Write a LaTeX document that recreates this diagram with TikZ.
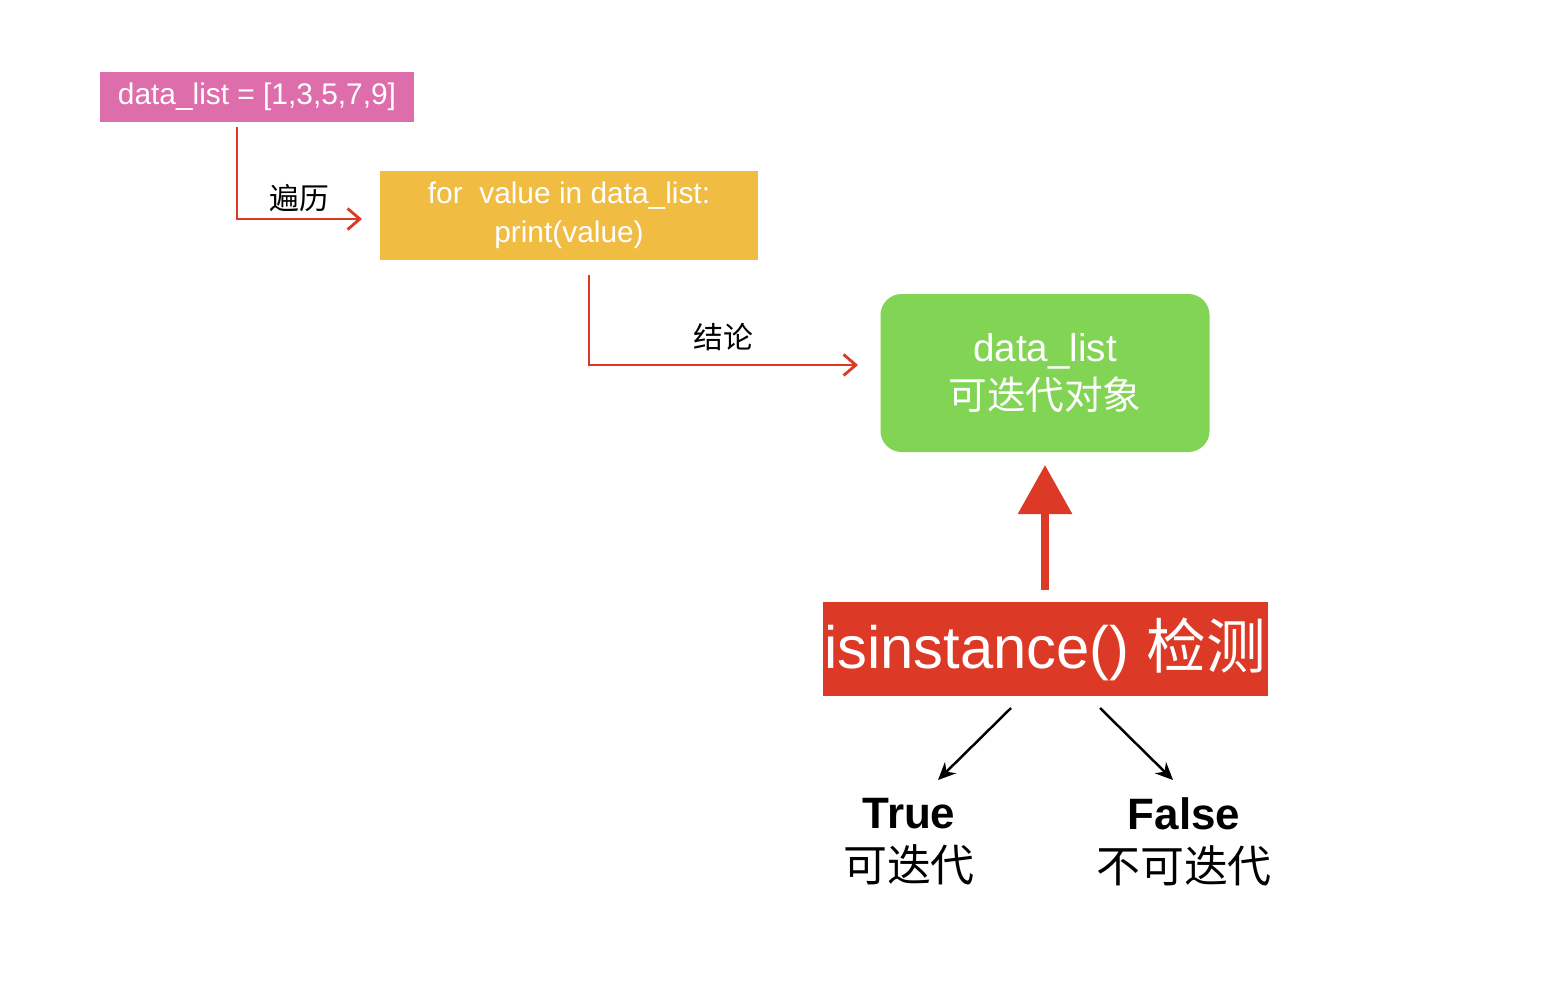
\documentclass[tikz,border=0pt]{standalone}
\usepackage{fontspec}
\setmainfont{Liberation Sans}
\newfontfamily\cjk{Noto Sans CJK SC}
\usetikzlibrary{arrows.meta}
\definecolor{pinkbox}{HTML}{DE6DAB}
\definecolor{yellowbox}{HTML}{F0BC42}
\definecolor{greenbox}{HTML}{81D454}
\definecolor{redbox}{HTML}{DC3A26}

\tikzset{
	codebox/.style={rectangle, inner sep=0pt, text=white, align=center},
	redline/.style={draw=redbox, line width=1.6pt, -{Straight Barb[length=7pt,width=12pt]}},
	blackline/.style={draw=black, line width=1.4pt, -{Stealth[length=10pt,width=9pt]}},
	answer/.style={align=center, font=\fontsize{25}{30}\selectfont\bfseries}
}

\begin{document}
\begin{tikzpicture}[x=0.02cm, y=-0.02cm]
	\useasboundingbox (0,0) rectangle (1544,984);
	\node[codebox, fill=pinkbox, minimum width=314*0.02cm, minimum height=50*0.02cm, font=\fontsize{17}{20}\selectfont] at (257,97)(datalist){data\_list = [1,3,5,7,9]};
	\node[codebox, fill=yellowbox, minimum width=378*0.02cm, minimum height=89*0.02cm, font=\fontsize{17}{22}\selectfont] at (569,215)(forloop){for\ \ value in data\_list:\\print(value)};
	\node[codebox, fill=greenbox, rounded corners=12pt, minimum width=329*0.02cm, minimum height=158*0.02cm, font=\fontsize{22}{27}\selectfont] at (1045,373)(iterable){data\_list\\{\cjk 可迭代对象}};
	\node[codebox, fill=redbox, minimum width=445*0.02cm, minimum height=94*0.02cm, font=\fontsize{34}{40}\selectfont] at (1045,649)(check){isinstance() {\cjk 检测}};
	\node[answer] at (909,842)(yes){True\\{\cjk\mdseries 可迭代}};
	\node[answer] at (1184,842)(no){False\\{\cjk\mdseries 不可迭代}};
	\coordinate (travstart) at (237,127);
	\coordinate (trav) at (362,219);
	\coordinate (conclstart) at (589,275);
	\coordinate (concl) at (858,365);
	\coordinate (upstart) at (1045,590);
	\coordinate (uptip) at (1045,465);
	\coordinate (yesstart) at (1011,708);
	\coordinate (yestip) at (938,780);
	\coordinate (nostart) at (1100,708);
	\coordinate (notip) at (1173,780);
	\draw[redline] (travstart) |- node[pos=0.75, above, font=\cjk\fontsize{17}{20}\selectfont]{遍历} (trav);
	\draw[redline] (conclstart) |- node[pos=0.75, above, yshift=4pt, font=\cjk\fontsize{17}{20}\selectfont]{结论} (concl);
	\draw[draw=redbox, line width=4.5pt, -{Triangle[length=28pt,width=30pt]}] (upstart) -- (uptip);
	\draw[blackline] (yesstart) -- (yestip);
	\draw[blackline] (nostart) -- (notip);
\end{tikzpicture}
\end{document}
